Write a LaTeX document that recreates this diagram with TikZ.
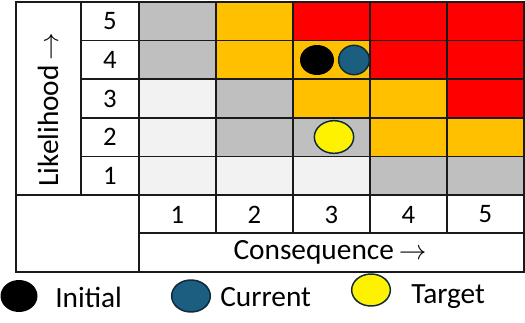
\documentclass[tikz,border=0pt]{standalone}
\usepackage{fontspec}
\setmainfont{Carlito}
\usetikzlibrary{shapes.geometric}
\definecolor{rgray}{HTML}{BFBFBF}
\definecolor{rorange}{HTML}{FFC000}
\definecolor{rred}{HTML}{FF0000}
\definecolor{rlight}{HTML}{F2F2F2}
\definecolor{mblue}{HTML}{1B5E80}
\definecolor{mline}{HTML}{0E2A3A}
\definecolor{gline}{HTML}{1A1A1A}
\begin{document}
\begin{tikzpicture}[x=0.75pt,y=-0.75pt,
  gridline/.style={draw=gline,line width=1.1pt},
  numtxt/.style={font=\fontsize{20}{24}\selectfont,inner sep=0pt},
  labtxt/.style={font=\fontsize{22}{26}\selectfont,inner sep=0pt},
  marker/.style={ellipse,inner sep=0pt,line width=1.1pt}]
\useasboundingbox (0,0) rectangle (525,322);
\fill[white] (0,0) rectangle (525,322);
% heat map cells
\foreach \col [count=\k from 0] in {rgray,rorange,rred,rred,rred,
  rgray,rorange,rorange,rred,rred,
  rlight,rgray,rorange,rorange,rred,
  rlight,rgray,rgray,rorange,rorange,
  rlight,rlight,rlight,rgray,rgray}{
  \pgfmathtruncatemacro\row{int(\k/5)}
  \pgfmathtruncatemacro\cl{mod(\k,5)}
  \fill[\col] ({139+77*\cl},{2+38.6*\row}) rectangle ++(77,38.6);
}
% grid lines
\foreach \x in {216,293,370,447} \draw[gridline] (\x,2) -- (\x,233);
\foreach \y in {40.6,79.2,117.8,156.4} \draw[gridline] (81,\y) -- (524,\y);
\draw[gridline] (81,2) -- (81,195);
\draw[gridline] (139,2) -- (139,272);
\draw[gridline] (16,195) -- (524,195);
\draw[gridline] (139,233) -- (524,233);
\draw[draw=gline,line width=1.5pt] (16,2) rectangle (524,272);
% likelihood numbers
\foreach \n [count=\i from 0] in {5,4,3,2,1}
  \node[numtxt] (L\n) at (110,{21.3+38.6*\i}) {\n};
% consequence numbers
\foreach \n in {1,...,5}
  \node[numtxt] (C\n) at ({100.5+77*\n},214.5) {\n};
\node[labtxt] (cons) at (330,252.5) {Consequence\,$\rightarrow$};
\node[labtxt,rotate=90] (like) at (48,109.5) {Likelihood\,$\rightarrow$};
% markers
\node[marker,fill=black,minimum width=25.5pt,minimum height=22.5pt] (init) at (317,60) {};
\node[marker,fill=mblue,draw=mline,minimum width=23pt,minimum height=22pt] (cur) at (354,60) {};
\node[marker,fill=yellow,draw=mline,minimum width=29.5pt,minimum height=24.5pt] (tgt) at (334,137) {};
% legend
\node[marker,fill=black,minimum width=27.75pt,minimum height=24pt] (lgI) at (19,296) {};
\node[labtxt,anchor=west] (tI) at (55,297) {Initial};
\node[marker,fill=mblue,draw=mline,minimum width=29pt,minimum height=24pt] (lgC) at (191,296) {};
\node[labtxt,anchor=west] (tC) at (220,297) {Current};
\node[marker,fill=yellow,draw=mline,minimum width=29pt,minimum height=24pt] (lgT) at (371,290) {};
\node[labtxt,anchor=west] (tT) at (411,297) {Target};
\end{tikzpicture}
\end{document}
